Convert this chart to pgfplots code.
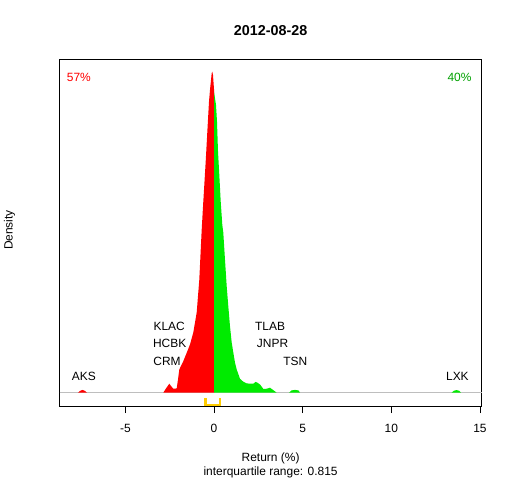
\documentclass[border=0pt]{standalone}
\usepackage{pgfplots}
\pgfplotsset{compat=1.18}
\usepackage{fontspec}
\setmainfont{Liberation Sans}
\definecolor{redfill}{RGB}{255,0,0}
\definecolor{greenfill}{RGB}{0,235,0}
\definecolor{greentext}{RGB}{0,160,0}
\definecolor{iqr}{RGB}{255,205,0}
\definecolor{basegray}{RGB}{190,190,190}
\begin{document}
\begin{tikzpicture}
\path[use as bounding box] (0,0) rectangle (512bp,480bp);
\begin{axis}[
  at={(59.5bp,74bp)}, anchor=south west,
  scale only axis, width=422.2bp, height=346.5bp,
  xmin=-8.714, xmax=15.099, ymin=-13.3, ymax=333.8,
  xtick={-5,0,5,10,15}, ytick=\empty,
  xtick pos=bottom, tick align=outside,
  major tick length=7bp,
  every tick/.style={black, line width=0.8bp},
  axis line style={black, line width=0.8bp},
  tick label style={font=\fontsize{12}{14}\selectfont, /pgf/number format/assume math mode=true},
  xticklabel style={yshift=-8bp},
  clip=false,
]
% baseline
\addplot[basegray, line width=0.8bp] coordinates {(-8.714,0) (15.099,0)};
% AKS bump
\addplot[fill=redfill, draw=none] coordinates {(-7.671,0) (-7.558,1.8) (-7.417,2.8) (-7.276,1.8) (-7.163,0)} -- cycle;
% red main
\addplot[fill=redfill, draw=none] coordinates {
(-2.860,0) (-2.707,4.3) (-2.521,9) (-2.425,6.8) (-2.296,4) (-2.104,4.3)
(-2.030,13.3) (-1.957,23.3) (-1.732,31.6) (-1.540,40) (-1.354,48.3)
(-1.168,60.3) (-0.976,80.3) (-0.829,113.3) (-0.694,163.3) (-0.603,191.6)
(-0.468,231.6) (-0.355,268.3) (-0.282,291.6) (-0.226,303.3) (-0.130,320)
(-0.096,321.6) (-0.056,318) (0,304) (0,0)} -- cycle;
% green main
\addplot[fill=greenfill, draw=none] coordinates {
(0,0) (0,301.6) (0.113,288.3) (0.169,271.6) (0.226,241.6) (0.299,218.3)
(0.378,191.6) (0.468,168.3) (0.525,160.3) (0.620,133.3) (0.716,106.6)
(0.807,86.6) (0.902,66.6) (0.998,50.3) (1.089,40.3) (1.184,30.3)
(1.280,23.3) (1.466,14) (1.653,11) (1.844,9.3) (2.217,9) (2.341,10.8)
(2.425,10.3) (2.594,8.3) (2.781,3.8) (2.972,4) (3.158,5) (3.345,2.6) (3.536,0)} -- cycle;
% TSN bump
\addplot[fill=greenfill, draw=none] coordinates {(4.230,0) (4.371,2.3) (4.569,2.8) (4.766,2.3) (4.851,0)} -- cycle;
% LXK bump
\addplot[fill=greenfill, draw=none] coordinates {(13.395,0) (13.536,2.0) (13.677,2.6) (13.818,2.0) (13.931,0)} -- cycle;
% IQR bracket
\addplot[iqr, line width=2.2bp] coordinates {(-0.48,-5.7) (-0.48,-12.3) (0.335,-12.3) (0.335,-5.7)};
% ticker labels
\begin{scope}[every node/.style={font=\fontsize{12}{14}\selectfont, inner sep=0pt}]
\node[anchor=west] at (axis cs:-3.42,66) {KLAC};
\node[anchor=west] at (axis cs:-3.45,49) {HCBK};
\node[anchor=west] at (axis cs:-3.43,31.6) {CRM};
\node[anchor=west] at (axis cs:2.31,66) {TLAB};
\node[anchor=west] at (axis cs:2.41,49) {JNPR};
\node[anchor=west] at (axis cs:3.90,31.6) {TSN};
\node[anchor=west] at (axis cs:-8.03,16) {AKS};
\node[anchor=west] at (axis cs:13.08,16) {LXK};
\node[anchor=west, text=redfill] at (axis cs:-8.31,315.6) {57\%};
\node[anchor=west, text=greentext] at (axis cs:13.16,315.6) {40\%};
\end{scope}
\end{axis}
\node[font=\fontsize{14.4}{16}\selectfont\bfseries] at (270.6bp,449bp) {2012-08-28};
\node[font=\fontsize{12}{14}\selectfont] at (270.6bp,21.5bp) {Return (\%)};
\node[font=\fontsize{12}{14}\selectfont] at (270.6bp,8bp) {interquartile range: 0.815};
\node[font=\fontsize{12}{14}\selectfont, rotate=90] at (9.5bp,250bp) {Density};
\end{tikzpicture}
\end{document}
